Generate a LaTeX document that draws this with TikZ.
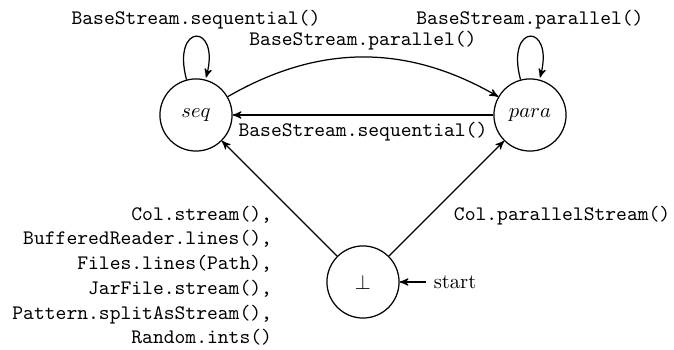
\documentclass[tikz,border=0pt]{standalone}
\usetikzlibrary{automata,arrows}
\begin{document}
\begin{tikzpicture}[x=0.4854pt,y=-0.4854pt,semithick,>=stealth',
  st/.style={state,minimum size=35pt,inner sep=0pt},
  lbl/.style={font=\ttfamily},
  initial text={start}]
\useasboundingbox (0,0) rectangle (674,350);
\node[st] (seq) at (196,115) {$seq$};
\node[st] (para) at (530,115) {$para$};
\node[st,initial right] (bot) at (363,282) {$\bot$};
\draw[->] (seq) edge[loop above] node[lbl,above] {BaseStream.sequential()} (seq);
\draw[->] (para) edge[loop above] node[lbl,above] {BaseStream.parallel()} (para);
\draw[->] (seq) to[bend left=30] node[lbl,above] {BaseStream.parallel()} (para);
\draw[->] (para) -- node[lbl,below] {BaseStream.sequential()} (seq);
\draw[->] (bot) -- node[lbl,anchor=north east,align=right] {Col.stream(),\\BufferedReader.lines(),\\Files.lines(Path),\\JarFile.stream(),\\Pattern.splitAsStream(),\\Random.ints()} (seq);
\draw[->] (bot) -- node[lbl,anchor=north west] {Col.parallelStream()} (para);
\end{tikzpicture}
\end{document}
